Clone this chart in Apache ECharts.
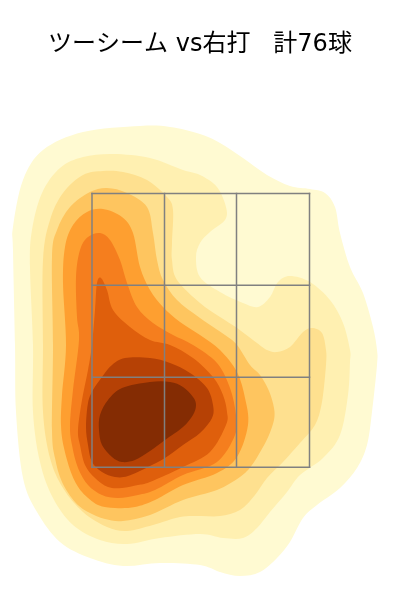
<!DOCTYPE html>
<html>
<head>
<meta charset="utf-8">
<style>
  html, body { margin: 0; padding: 0; background: #fff; }
  #main { width: 400px; height: 600px; }
</style>
<script src="https://cdn.jsdelivr.net/npm/echarts@6/dist/echarts.min.js"></script>
</head>
<body>
<div id="main"></div>
<script>
var titleText = 'ツーシーム vs右打   計76球';

// density contours, outermost first. [horizontal, height]
var level1 = [[-30,237],[-15,236.5],[0,233],[10,228.5],[21.5,221],[33.5,212.5],[45,207],[55,205.5],[62.5,203.5],[67.5,196.5],[70,183.5],[75,166.5],[81.5,153.5],[86.5,136.5],[88.5,125],[88.5,117.5],[86,94],[83.5,77.5],[78.5,66],[70,56],[58.5,47.5],[51.5,41],[45,29],[38.5,21],[30,14],[20,12],[10,14],[0,17.5],[-20,18.5],[-38.5,17],[-55,21],[-70,29],[-81.5,44],[-88.5,61],[-92,94],[-92.5,127.5],[-93.5,175],[-93.5,186.5],[-88.5,210],[-78.5,225],[-58.5,234]];
var level2 = [[-43.5,223],[-25,221],[-8.5,215],[0,212.5],[8.5,206.5],[13,196.5],[12.5,190],[5,184],[0,178.5],[-2,171.5],[0,161.5],[10,154],[21.5,148.5],[29,146.5],[35,151.5],[39,159],[45,162],[55,159],[65,150],[71.5,138.5],[75,125],[75,119],[74,102.5],[70,82.5],[61.5,71],[50,62.5],[43.5,54],[35,44],[28.5,36],[21.5,31],[11.5,31],[0,33],[-20,31],[-36.5,28],[-50,30],[-63.5,37.5],[-73.5,51],[-80,69],[-83.5,94],[-83.5,127.5],[-85,166.5],[-84,185],[-79,203.5],[-70,216],[-58.5,221.5]];
var level3 = [[-48.5,214.5],[-38.5,214],[-26.5,210],[-16.5,201.5],[-13.5,195],[-14,178.5],[-14,170],[-11.5,160],[0,148.5],[10,141.5],[18.5,136],[28.5,128.5],[33.5,125],[38.5,124],[45,126.5],[51.5,134],[56,136],[61,133.5],[63,125],[63,117.5],[61,99],[57.5,87.5],[50,78.5],[41.5,69],[33.5,61],[27.5,52.5],[20,45],[10,42],[0,42],[-10,41.5],[-23.5,37.5],[-36.5,34.5],[-46.5,36.5],[-58.5,44],[-68.5,56],[-75,71],[-78.5,94],[-78.5,127.5],[-78.5,170],[-75,190],[-68.5,203.5],[-58.5,212.5]];
var level4 = [[-46.5,206],[-36.5,203.5],[-26.5,196.5],[-23.5,183.5],[-21.5,170],[-18.5,160],[-11.5,150],[0,141],[12.5,132.5],[18.5,127.5],[25,117.5],[30,112.5],[34.5,104.5],[37,96],[37,90],[34.5,82.5],[31.5,76.5],[26,67.5],[20,61.5],[8.5,55],[-8.5,50],[-25,42.5],[-38.5,39.5],[-47.5,40.5],[-56,44],[-62.5,49],[-69,59],[-72.5,71],[-74,85],[-73.5,127.5],[-74,171.5],[-71.5,185],[-65,196.5],[-55,204]];
var level5 = [[-48.5,195.5],[-39,191.5],[-33.5,183.5],[-30,166.5],[-25,155],[-18.5,146.5],[-10,139],[0,132.5],[10,125],[18.5,114],[22.5,101],[24,87.5],[18.5,71.5],[8.5,63.5],[-8.5,57.5],[-22.5,50],[-32.5,46.5],[-42.5,46],[-51,47.5],[-59,54],[-64,62.5],[-68,76],[-69.5,87.5],[-69,102.5],[-67,127.5],[-68.5,158.5],[-67.5,176.5],[-63.5,187.5],[-56.5,194]];
var level6 = [[-50,183.5],[-45,180],[-40,170],[-36.5,158.5],[-31.5,146.5],[-23.5,138.5],[-13.5,132.5],[-3.5,127.5],[8.5,118.5],[15,106],[18,92.5],[17.5,82.5],[8.5,69],[-8.5,62.5],[-22.5,55],[-31,52.5],[-41,51],[-49,52.5],[-56,57.5],[-61,66],[-64,77.5],[-65,87.5],[-63.5,105],[-60.5,130],[-61.5,141.5],[-62,161.5],[-60,175],[-56,181.5]];
var level7 = [[-49.5,161],[-46.5,155],[-43.5,145],[-35,136.5],[-25,130],[-15,127.5],[-3.5,121],[6.5,111.5],[11.5,102.5],[13.5,94],[13,87.5],[5,74],[-8.5,66.5],[-25,59],[-31,57.5],[-39,56],[-46,56.5],[-52.5,61],[-57.5,67.5],[-60,77.5],[-61,85],[-59,100],[-56,115],[-54,127.5],[-52.5,145],[-51.5,158.5]];
var level8 = [[-37.5,121],[-25,121],[-15,118.5],[-5,113.5],[3.5,106],[6.5,97.5],[6,91],[0,83.5],[-8.5,77.5],[-17.5,71],[-26,66.5],[-36,62],[-42.5,61.5],[-49,64],[-54,69],[-56,77.5],[-57,86.5],[-56,98.5],[-53.5,105],[-49,111.5],[-44,117.5]];
var level9 = [[-25,109],[-15,109],[-8.5,106.5],[-3.5,101.5],[-2,97.5],[-3.5,92.5],[-8.5,86.5],[-17.5,80],[-25,74.5],[-32.5,70],[-39,69],[-44,71.5],[-49,77.5],[-50.5,85],[-50,92.5],[-46,100],[-39,106]];
var levelColors = ['#fffad2', '#fff0b1', '#fee08f', '#fec55f', '#fe9f30', '#f57e1e', '#df5f0c', '#b64105', '#842c03'];

// strike zone edges
var zoneX = [-54, -17.75, 18.25, 54.75];
var zoneY = [66.35, 111.35, 157.35, 203.25];

var levels = [level1, level2, level3, level4, level5, level6, level7, level8, level9];
var levelIds = levels.map(function (l, i) { return [i]; });

var zoneSegments = [];
zoneX.forEach(function (x) {
  zoneSegments.push([x, zoneY[0], x, zoneY[3]]);
});
zoneY.forEach(function (y) {
  zoneSegments.push([zoneX[0], y, zoneX[3], y]);
});

// closed catmull-rom outline through the pixel points
function closedCurve(pts) {
  var n = pts.length;
  var d = 'M' + pts[0][0] + ' ' + pts[0][1];
  for (var i = 0; i < n; i++) {
    var p0 = pts[(i - 1 + n) % n], p1 = pts[i], p2 = pts[(i + 1) % n], p3 = pts[(i + 2) % n];
    d += 'C' + (p1[0] + (p2[0] - p0[0]) / 6) + ' ' + (p1[1] + (p2[1] - p0[1]) / 6) +
      ' ' + (p2[0] - (p3[0] - p1[0]) / 6) + ' ' + (p2[1] - (p3[1] - p1[1]) / 6) +
      ' ' + p2[0] + ' ' + p2[1];
  }
  return d + 'Z';
}

var myChart = echarts.init(document.getElementById('main'), null, { renderer: 'canvas' });

myChart.setOption({
  animation: false,
  title: {
    text: titleText,
    left: 'center',
    top: 28,
    textStyle: {
      fontFamily: '"DejaVu Sans", "Noto Sans CJK JP", sans-serif',
      fontSize: 24,
      fontWeight: 'normal',
      color: '#000'
    }
  },
  grid: { left: 0, right: 0, top: 0, bottom: 0 },
  xAxis: { type: 'value', min: -100, max: 100, show: false },
  yAxis: { type: 'value', min: 0, max: 300, show: false },
  series: [{
    type: 'custom',
    coordinateSystem: 'cartesian2d',
    silent: true,
    encode: { x: 0 },
    data: levelIds,
    renderItem: function (params, api) {
      var idx = api.value(0);
      return {
        type: 'path',
        shape: {
          pathData: closedCurve(levels[idx].map(function (p) { return api.coord(p); }))
        },
        style: { fill: levelColors[idx], stroke: null }
      };
    }
  }, {
    type: 'custom',
    coordinateSystem: 'cartesian2d',
    silent: true,
    encode: { x: [0, 2], y: [1, 3] },
    data: zoneSegments,
    renderItem: function (params, api) {
      var a = api.coord([api.value(0), api.value(1)]);
      var b = api.coord([api.value(2), api.value(3)]);
      return {
        type: 'line',
        shape: { x1: a[0], y1: a[1], x2: b[0], y2: b[1] },
        style: { stroke: '#808080', lineWidth: 1.5, lineCap: 'square' }
      };
    }
  }]
});
</script>
</body>
</html>
